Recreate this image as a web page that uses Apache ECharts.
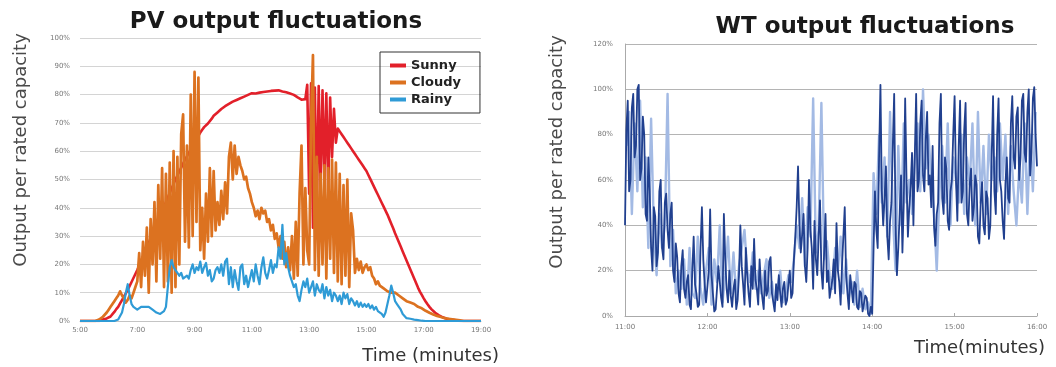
<!DOCTYPE html>
<html>
<head>
<meta charset="utf-8">
<script src="https://cdn.jsdelivr.net/npm/echarts@6/dist/echarts.min.js"></script>
<style>
html, body { margin: 0; padding: 0; background: #fff; }
#chart { width: 1056px; height: 367px; }
</style>
</head>
<body>
<div id="chart"></div>
<script>
// PV: one value every 4 minutes from 5:00 (minute 300), one row per hour
const pvStart = 300
const pvStep = 4
const sunny = [
    0, 0, 0, 0, 0, 0, 0, 0, 0, 0, 0, 0.3, 0.5, 0.7, 0.9,
    1, 1.6, 2.4, 3.2, 4.2, 5, 6.2, 7.4, 8.6, 9.8, 11, 12.4, 13.8, 15.2, 16.6,
    18, 19.6, 21.2, 22.8, 24.4, 26, 27.6, 29.2, 30.8, 32.4, 34, 35.6, 37.2, 38.8, 40.4,
    42, 43.6, 45.2, 46.8, 48.4, 50, 51.4, 52.8, 54.2, 55.6, 57, 58.2, 59.4, 60.6, 61.8,
    63, 64.2, 65.4, 66.6, 67.6, 68.5, 69.2, 69.8, 70.5, 71.5, 72.5, 73.1, 73.7, 74.3, 74.9,
    75.5, 75.9, 76.3, 76.7, 77.1, 77.5, 77.8, 78.1, 78.4, 78.7, 79, 79.3, 79.6, 79.9, 80.2,
    80.5, 80.9, 80.4, 81, 80.7, 81.3, 80.9, 81.4, 81.1, 81.7, 81.3, 81.8, 81.4, 81.9, 81.5,
    81.5, 81.1, 81.3, 80.8, 80.9, 80.4, 80.2, 79.9, 79.4, 79, 78.6, 78.2, 77.8, 78.4, 83.5,
    45, 84, 33, 82.5, 38, 83, 47, 81.5, 50, 80.5, 46, 79, 58, 75, 63,
    68, 67, 66, 65, 64, 63, 62, 61, 60, 59, 58, 57, 56, 55, 54,
    53, 51.6, 50.2, 48.8, 47.4, 46, 44.6, 43.2, 41.8, 40.4, 39, 37.6, 36, 34.4, 32.8,
    31, 29.4, 27.8, 26.2, 24.6, 23, 21.4, 19.8, 18.2, 16.6, 15, 13.4, 11.8, 10.4, 9.2,
    8, 6.9, 5.9, 5, 4.2, 3.5, 2.9, 2.4, 2, 1.6, 1.3, 1, 0.8, 0.6, 0.5,
    0.4, 0.3, 0.2, 0.1, 0.1, 0, 0, 0, 0, 0, 0, 0, 0, 0, 0,
    0
]
const cloudy = [
    0, 0, 0, 0, 0, 0, 0, 0, 0, 0, 0.5, 1, 1.5, 2.2, 3,
    4, 5, 6, 7, 8, 9, 10.5, 9, 8, 6.5, 7.5, 9, 8, 10, 12,
    14, 24, 12, 28, 16, 33, 10, 36, 20, 42, 14, 48, 22, 54, 12,
    52, 14, 56, 10, 60, 12, 58, 20, 66, 73, 28, 62, 26, 80, 30,
    88, 35, 86, 25, 40, 22, 45, 28, 54, 30, 53, 32, 42, 34, 46,
    36, 49, 38, 58, 63, 50, 62, 52, 58, 55, 53, 50, 51, 47, 45,
    42, 40, 37, 39, 36, 40, 38, 39, 35, 36, 32, 34, 29, 31, 26,
    30, 22, 28, 19, 26, 18, 30, 15, 35, 16, 45, 62, 20, 47, 25,
    20, 70, 94, 18, 58, 16, 52, 20, 55, 15, 54, 22, 57, 17, 56,
    14, 52, 13, 48, 16, 50, 12, 38, 32, 17, 22, 18, 21, 17, 19,
    20, 18, 19, 16, 15, 13, 14, 12.5, 13, 11.5, 12, 10.5, 11, 10, 10.5,
    10, 9.5, 9, 8.5, 8, 7.5, 7, 6.5, 6.5, 6, 6, 5.5, 5, 5, 4.5,
    4, 3.6, 3.2, 2.9, 2.6, 2.3, 2, 1.8, 1.6, 1.4, 1.2, 1, 0.9, 0.8, 0.7,
    0.6, 0.5, 0.4, 0.3, 0.2, 0.1, 0, 0, 0, 0, 0, 0, 0, 0, 0,
    0
]
const rainy = [
    0, 0, 0, 0, 0, 0, 0, 0, 0, 0, 0, 0, 0, 0, 0,
    0, 0, 0, 0, 0, 0.5, 1, 3, 6, 10, 13, 9, 6, 5, 4.5,
    4, 4.5, 5, 4.5, 5, 5.5, 5, 4.5, 4, 3.5, 3, 3, 2.5, 3, 3.5,
    5, 12, 19, 21.5, 19, 18, 17.5, 16, 17, 15, 14.5, 16, 15, 18, 20,
    17, 19, 18, 21, 17, 19, 20.5, 16, 18, 14, 15, 18, 19, 17, 20,
    16, 21, 22, 13, 19, 12, 18, 14, 11, 19, 20, 13, 16, 12, 11.5,
    18, 14, 20, 16, 13, 19, 22.5, 17, 15, 18, 21.5, 17, 20, 19, 26,
    22, 34, 20, 24, 19, 16, 14, 12, 13, 9, 7, 11, 14, 12, 15,
    10, 12, 14, 9, 13, 11, 10, 13, 8, 12, 9, 11, 7, 10, 9,
    7, 9, 6, 10, 8, 9.5, 6, 8, 7, 5.5, 7, 5, 6.5, 5, 6,
    5, 6, 4.5, 5.5, 4, 5, 3.5, 4, 2.5, 1.5, 3, 6, 9, 12.5, 10,
    7, 6, 5, 4, 2.5, 2, 1, 1, 0.8, 0.6, 0.5, 0.4, 0.3, 0.2, 0.1,
    0, 0, 0, 0, 0, 0, 0, 0, 0, 0, 0, 0, 0, 0, 0,
    0, 0, 0, 0, 0, 0, 0, 0, 0, 0, 0, 0, 0, 0, 0,
    0
]

// WT dark: one value per minute from 11:00 (minute 660), one row per half hour
const wtDarkStart = 660
const wtDarkStep = 1
const wtDark = [
    40, 82, 95, 55, 60, 92, 98, 70, 75, 100, 102, 60, 65, 88, 80, 45, 42, 70, 55, 30, 20, 48, 44, 22, 28, 55, 60, 30, 25, 50,
    54, 38, 30, 45, 50, 20, 15, 32, 26, 10, 6, 22, 29, 12, 8, 15, 18, 5, 3, 20, 35, 14, 10, 4, 5, 30, 48, 25, 14, 6,
    6, 20, 47, 18, 10, 2, 3, 12, 22, 15, 8, 4, 45, 25, 12, 6, 20, 9, 4, 12, 16, 3, 7, 18, 40, 22, 14, 5, 30, 18,
    10, 4, 22, 12, 34, 16, 12, 5, 25, 14, 8, 3, 20, 9, 11, 24, 26, 10, 6, 2, 14, 7, 18, 10, 4, 12, 15, 5, 7, 14,
    20, 8, 10, 25, 35, 48, 66, 40, 28, 36, 45, 22, 15, 30, 60, 38, 30, 12, 42, 25, 18, 35, 51, 20, 12, 28, 45, 15, 20, 8,
    8, 16, 25, 10, 41, 20, 15, 5, 22, 35, 48, 18, 10, 3, 18, 12, 6, 15, 14, 4, 3, 11, 10, 2, 2, 9, 8, 1, 0, 4,
    1, 30, 55, 38, 30, 70, 102, 55, 40, 52, 66, 35, 25, 42, 50, 75, 98, 40, 18, 30, 45, 62, 28, 50, 96, 60, 35, 48, 57, 72,
    40, 70, 98, 55, 60, 85, 95, 62, 55, 78, 90, 58, 62, 48, 75, 40, 31, 45, 50, 85, 98, 52, 45, 70, 65, 42, 38, 55, 60, 80,
    97, 60, 42, 75, 95, 50, 55, 82, 94, 45, 40, 58, 65, 42, 48, 62, 58, 35, 32, 50, 59, 40, 36, 55, 52, 34, 40, 70, 97, 55,
    45, 80, 96, 60, 55, 42, 34, 58, 70, 52, 50, 85, 97, 70, 65, 88, 92, 60, 70, 95, 98, 72, 68, 90, 100, 62, 72, 96, 101, 80,
    66
]
// WT light: one value every 2 minutes from 11:01, one row per half hour
const wtLightStart = 661
const wtLightStep = 2
const wtLight = [
    75, 90, 45, 85, 55, 95, 48, 70, 30, 87, 38, 18, 45, 30, 40,
    98, 22, 38, 10, 20, 12, 25, 5, 30, 10, 8, 35, 12, 5, 20,
    30, 5, 25, 15, 40, 6, 18, 35, 10, 28, 8, 22, 30, 38, 20,
    15, 28, 12, 20, 10, 18, 25, 8, 15, 5, 12, 20, 6, 10, 18,
    15, 25, 40, 30, 52, 22, 48, 35, 96, 28, 38, 94, 25, 33, 18,
    12, 30, 20, 35, 10, 25, 8, 15, 5, 20, 4, 12, 3, 6, 1,
    63, 45, 80, 50, 70, 35, 90, 45, 20, 75, 40, 85, 50, 60, 45,
    70, 85, 55, 100, 65, 80, 60, 45, 20, 55, 75, 50, 85, 40, 70,
    60, 50, 80, 45, 70, 58, 85, 40, 90, 50, 75, 45, 80, 60, 70,
    55, 85, 60, 80, 45, 75, 55, 40, 65, 50, 85, 45, 80, 55, 90
]

const font = 'DejaVu Sans, Verdana, sans-serif'

function pairs (start, step, arr) {
    return arr.map((v, i) => [start + i * step, v])
}
function hhmm (v) {
    return Math.floor(v / 60) + ':' + String(v % 60).padStart(2, '0')
}
function line (name, data, color, width, xi, z) {
    return {
        name: name,
        type: 'line',
        xAxisIndex: xi,
        yAxisIndex: xi,
        data: data,
        showSymbol: false,
        symbol: 'none',
        z: z,
        lineStyle: { color: color, width: width, join: 'round' },
        itemStyle: { color: color }
    }
}

const tickLabel = { fontSize: 7, color: '#777', fontFamily: font }
const axisName = { fontSize: 18, fill: '#4a4a4a', fontFamily: font, align: 'center', verticalAlign: 'middle' }

let myChart = echarts.init(document.getElementById('chart'))
myChart.setOption({
    animation: false,
    title: [
        { text: 'PV output fluctuations', left: 271, top: 6, textAlign: 'center',
          textStyle: { fontSize: 23, fontWeight: 'bold', color: '#1a1a1a', fontFamily: font } },
        { text: 'WT output fluctuations', left: 860, top: 11, textAlign: 'center',
          textStyle: { fontSize: 23, fontWeight: 'bold', color: '#1a1a1a', fontFamily: font } }
    ],
    legend: {
        data: ['Sunny', 'Cloudy', 'Rainy'],
        orient: 'vertical',
        left: 380,
        top: 52,
        padding: [7, 19, 7, 10],
        itemGap: 4,
        itemWidth: 16,
        itemHeight: 4,
        icon: 'rect',
        borderColor: '#333',
        borderWidth: 1,
        textStyle: { fontSize: 13, fontWeight: 'bold', color: '#222', fontFamily: font }
    },
    grid: [
        { left: 80, top: 38, width: 401, height: 283 },
        { left: 625, top: 44, width: 412, height: 272 }
    ],
    xAxis: [
        { type: 'value', gridIndex: 0, min: 300, max: 1140, interval: 120,
          axisLine: { show: true, lineStyle: { color: '#c4c4c4' } },
          axisTick: { show: false },
          splitLine: { show: false },
          axisLabel: Object.assign({ margin: 6, formatter: hhmm }, tickLabel) },
        { type: 'value', gridIndex: 1, min: 660, max: 960, interval: 60,
          axisLine: { show: true, lineStyle: { color: '#aaa' } },
          axisTick: { show: true, length: 3, inside: true, lineStyle: { color: '#aaa' } },
          splitLine: { show: false },
          axisLabel: Object.assign({ margin: 8, formatter: hhmm }, tickLabel) }
    ],
    yAxis: [
        { type: 'value', gridIndex: 0, min: 0, max: 100, interval: 10,
          axisLine: { show: false },
          axisTick: { show: false },
          splitLine: { lineStyle: { color: '#d4d4d4' } },
          axisLabel: Object.assign({ margin: 10, formatter: '{value}%' }, tickLabel) },
        { type: 'value', gridIndex: 1, min: 0, max: 120, interval: 20,
          axisLine: { show: true, lineStyle: { color: '#aaa' } },
          axisTick: { show: false },
          splitLine: { lineStyle: { color: '#b4b4b4' } },
          axisLabel: Object.assign({ margin: 12, formatter: '{value}%' }, tickLabel) }
    ],
    graphic: [
        { type: 'text', x: 21, y: 150, rotation: Math.PI / 2,
          style: Object.assign({ text: 'Output per rated capacity' }, axisName) },
        { type: 'text', x: 557, y: 152, rotation: Math.PI / 2,
          style: Object.assign({ text: 'Output per rated capacity' }, axisName) },
        { type: 'text', x: 499, y: 356,
          style: { text: 'Time (minutes)', fontSize: 18, fill: '#333', fontFamily: font, align: 'right', verticalAlign: 'middle' } },
        { type: 'text', x: 1045, y: 348,
          style: { text: 'Time(minutes)', fontSize: 18, fill: '#333', fontFamily: font, align: 'right', verticalAlign: 'middle' } }
    ],
    series: [
        line('Sunny', pairs(pvStart, pvStep, sunny), '#e2202a', 2.6, 0, 2),
        line('Cloudy', pairs(pvStart, pvStep, cloudy), '#dc7220', 2.7, 0, 3),
        line('Rainy', pairs(pvStart, pvStep, rainy), '#2f9bd6', 2.2, 0, 4),
        line('WT light', pairs(wtLightStart, wtLightStep, wtLight), '#a3bae4', 2.4, 1, 2),
        line('WT dark', pairs(wtDarkStart, wtDarkStep, wtDark), '#21408f', 1.8, 1, 3)
    ]
})
</script>
</body>
</html>
